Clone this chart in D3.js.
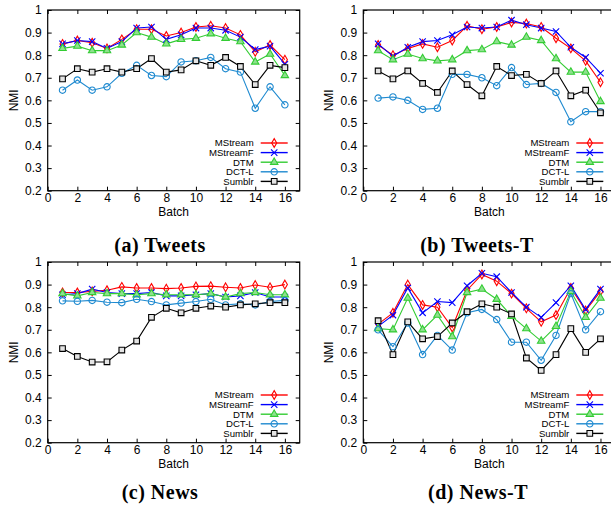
<!DOCTYPE html>
<html><head><meta charset="utf-8">
<script src="https://cdn.jsdelivr.net/npm/d3@7"></script>
<style>
html,body{margin:0;padding:0;background:#fff;}
svg{display:block;font-family:"Liberation Sans",Arial,sans-serif;}
</style></head>
<body>
<svg id="chart" width="611" height="510"></svg>
<script>
// ---------- data ----------
const batches = [1,2,3,4,5,6,7,8,9,10,11,12,13,14,15,16];
const seriesNames = ["MStream","MStreamF","DTM","DCT-L","Sumblr"];
const panelTitles = ["(a) Tweets","(b) Tweets-T","(c) News","(d) News-T"];
const yTicks = [0.2,0.3,0.4,0.5,0.6,0.7,0.8,0.9,1];
const yTickLabels = ["0.2","0.3","0.4","0.5","0.6","0.7","0.8","0.9","1"];
const xTicks = [0,2,4,6,8,10,12,14,16];

// (a) Tweets
const tweetsMStream  = [0.85,0.865,0.855,0.83,0.87,0.915,0.915,0.885,0.90,0.925,0.93,0.92,0.89,0.815,0.845,0.78];
const tweetsMStreamF = [0.85,0.865,0.86,0.83,0.86,0.92,0.925,0.87,0.89,0.92,0.92,0.91,0.88,0.825,0.84,0.76];
const tweetsDTM      = [0.83,0.84,0.82,0.82,0.845,0.90,0.88,0.85,0.87,0.875,0.895,0.875,0.86,0.77,0.805,0.71];
const tweetsDCTL     = [0.645,0.69,0.645,0.66,0.72,0.755,0.71,0.705,0.77,0.775,0.79,0.74,0.725,0.565,0.66,0.58];
const tweetsSumblr   = [0.695,0.74,0.725,0.74,0.725,0.74,0.785,0.725,0.735,0.775,0.755,0.79,0.75,0.67,0.755,0.745];
// (b) Tweets-T
const tweetsTMStream  = [0.845,0.80,0.83,0.85,0.835,0.865,0.93,0.915,0.925,0.945,0.94,0.925,0.875,0.83,0.775,0.68];
const tweetsTMStreamF = [0.85,0.795,0.835,0.86,0.865,0.89,0.925,0.92,0.925,0.955,0.935,0.92,0.905,0.835,0.79,0.72];
const tweetsTDTM      = [0.82,0.78,0.805,0.785,0.775,0.78,0.82,0.825,0.86,0.845,0.88,0.865,0.785,0.725,0.725,0.595];
const tweetsTDCTL     = [0.61,0.615,0.60,0.56,0.565,0.715,0.715,0.70,0.665,0.745,0.67,0.675,0.635,0.505,0.55,0.55];
const tweetsTSumblr   = [0.73,0.695,0.73,0.675,0.635,0.73,0.67,0.62,0.75,0.71,0.715,0.675,0.73,0.62,0.645,0.545];
// (c) News
const newsMStream  = [0.865,0.865,0.87,0.875,0.89,0.885,0.885,0.882,0.885,0.892,0.893,0.888,0.885,0.898,0.888,0.90];
const newsMStreamF = [0.855,0.86,0.88,0.865,0.86,0.86,0.865,0.85,0.85,0.855,0.86,0.845,0.85,0.865,0.845,0.845];
const newsDTM      = [0.86,0.85,0.865,0.86,0.86,0.855,0.86,0.855,0.855,0.855,0.86,0.845,0.86,0.865,0.855,0.855];
const newsDCTL     = [0.828,0.826,0.83,0.822,0.82,0.835,0.825,0.81,0.818,0.825,0.835,0.81,0.815,0.81,0.825,0.83];
const newsSumblr   = [0.617,0.582,0.557,0.558,0.61,0.65,0.755,0.795,0.775,0.795,0.805,0.80,0.81,0.815,0.82,0.82];
// (d) News-T
const newsTMStream  = [0.725,0.775,0.90,0.81,0.80,0.71,0.875,0.945,0.915,0.86,0.795,0.735,0.765,0.885,0.785,0.87];
const newsTMStreamF = [0.715,0.765,0.885,0.775,0.825,0.82,0.895,0.95,0.935,0.865,0.80,0.755,0.82,0.895,0.79,0.88];
const newsTDTM      = [0.705,0.70,0.84,0.70,0.765,0.67,0.865,0.88,0.835,0.76,0.705,0.65,0.715,0.87,0.755,0.84];
const newsTDCTL     = [0.70,0.625,0.73,0.59,0.675,0.61,0.775,0.79,0.745,0.645,0.645,0.565,0.675,0.86,0.70,0.78];
const newsTSumblr   = [0.74,0.59,0.735,0.66,0.67,0.73,0.78,0.815,0.80,0.77,0.575,0.52,0.59,0.705,0.60,0.66];

const panelData = [
  [tweetsMStream,tweetsMStreamF,tweetsDTM,tweetsDCTL,tweetsSumblr],
  [tweetsTMStream,tweetsTMStreamF,tweetsTDTM,tweetsTDCTL,tweetsTSumblr],
  [newsMStream,newsMStreamF,newsDTM,newsDCTL,newsSumblr],
  [newsTMStream,newsTMStreamF,newsTDTM,newsTDCTL,newsTSumblr]
];

// ---------- styles ----------
const colors = ["#ff0000","#0000ff","#33cc33","#1f8ad0","#000000"];
const symbols = [d3.symbolDiamond, d3.symbolTimes, d3.symbolTriangle, d3.symbolCircle, d3.symbolSquare];
const symSize = [22, 28, 24, 32, 32];
const symFill = ["none","none","#8ee08e","none","#e4e4e4"];

// ---------- layout ----------
const plotW = 252, plotH = 180.7;
const origins = [[47.7,10],[363.3,10],[47.7,262],[363.3,262]];
const titlePos = [[160,252],[477,252],[160,499],[478,499]];

const svg = d3.select("#chart");

panelData.forEach((series, p) => {
  const [ox, oy] = origins[p];
  const g = svg.append("g").attr("transform", `translate(${ox},${oy})`);
  const x = d3.scaleLinear().domain([0,17]).range([0,plotW]);
  const y = d3.scaleLinear().domain([0.2,1]).range([plotH,0]);

  // frame
  g.append("rect").attr("x",0).attr("y",0).attr("width",plotW).attr("height",plotH)
    .attr("fill","none").attr("stroke","#000").attr("stroke-width",1.2);

  // axes with inward ticks
  const xAxis = g.append("g").attr("transform",`translate(0,${plotH})`)
    .call(d3.axisBottom(x).tickValues(xTicks).tickSizeInner(-4).tickSizeOuter(0).tickPadding(3));
  const xTop = g.append("g")
    .call(d3.axisTop(x).tickValues(xTicks).tickSizeInner(-4).tickSizeOuter(0).tickFormat(""));
  const yAxis = g.append("g")
    .call(d3.axisLeft(y).tickValues(yTicks).tickFormat((d,i)=>yTickLabels[i]).tickSizeInner(-4).tickSizeOuter(0).tickPadding(6));
  const yRight = g.append("g").attr("transform",`translate(${plotW},0)`)
    .call(d3.axisRight(y).tickValues(yTicks).tickSizeInner(-4).tickSizeOuter(0).tickFormat(""));
  [xAxis,xTop,yAxis,yRight].forEach(a=>{
    a.select(".domain").remove();
    a.attr("font-size",12).attr("font-family","Liberation Sans, Arial, sans-serif");
    a.selectAll("text").attr("fill","#000");
    a.selectAll("line").attr("stroke","#000");
  });
  xAxis.selectAll("text").attr("dy","0.71em");

  // axis titles
  g.append("text").attr("x",126).attr("y",plotH+25.5).attr("text-anchor","middle")
    .attr("font-size",12).text("Batch");
  g.append("text").attr("transform",`translate(${-30},${plotH/2}) rotate(-90)`)
    .attr("text-anchor","middle").attr("font-size",12).text("NMI");

  // series
  const line = d3.line().x((d,i)=>x(batches[i])).y(d=>y(d));
  series.forEach((vals, s) => {
    g.append("path").datum(vals).attr("d",line)
      .attr("fill","none").attr("stroke",colors[s]).attr("stroke-width",1.1);
  });
  series.forEach((vals, s) => {
    g.selectAll(null).data(vals).enter().append("path")
      .attr("transform",(d,i)=>`translate(${x(batches[i])},${y(d)})`)
      .attr("d", d3.symbol().type(symbols[s]).size(symSize[s]))
      .attr("fill", symFill[s]).attr("stroke",colors[s]).attr("stroke-width",1.1);
  });

  // legend
  const lg = g.append("g");
  seriesNames.forEach((name, s) => {
    const ly = 133 + s*9.6;
    lg.append("text").attr("x",206).attr("y",ly).attr("dy","0.35em")
      .attr("text-anchor","end").attr("font-size",9.6).text(name);
    lg.append("line").attr("x1",213).attr("x2",240).attr("y1",ly).attr("y2",ly)
      .attr("stroke",colors[s]).attr("stroke-width",1.4);
    lg.append("path").attr("transform",`translate(226.5,${ly})`)
      .attr("d", d3.symbol().type(symbols[s]).size(symSize[s]))
      .attr("fill", symFill[s]).attr("stroke",colors[s]).attr("stroke-width",1.1);
  });

  // panel title
  svg.append("text").attr("x",titlePos[p][0]).attr("y",titlePos[p][1])
    .attr("text-anchor","middle").attr("font-family","Liberation Serif, Times New Roman, serif")
    .attr("font-weight","bold").attr("font-size",20).attr("letter-spacing",0.5)
    .text(panelTitles[p]);
});
</script>
</body></html>
